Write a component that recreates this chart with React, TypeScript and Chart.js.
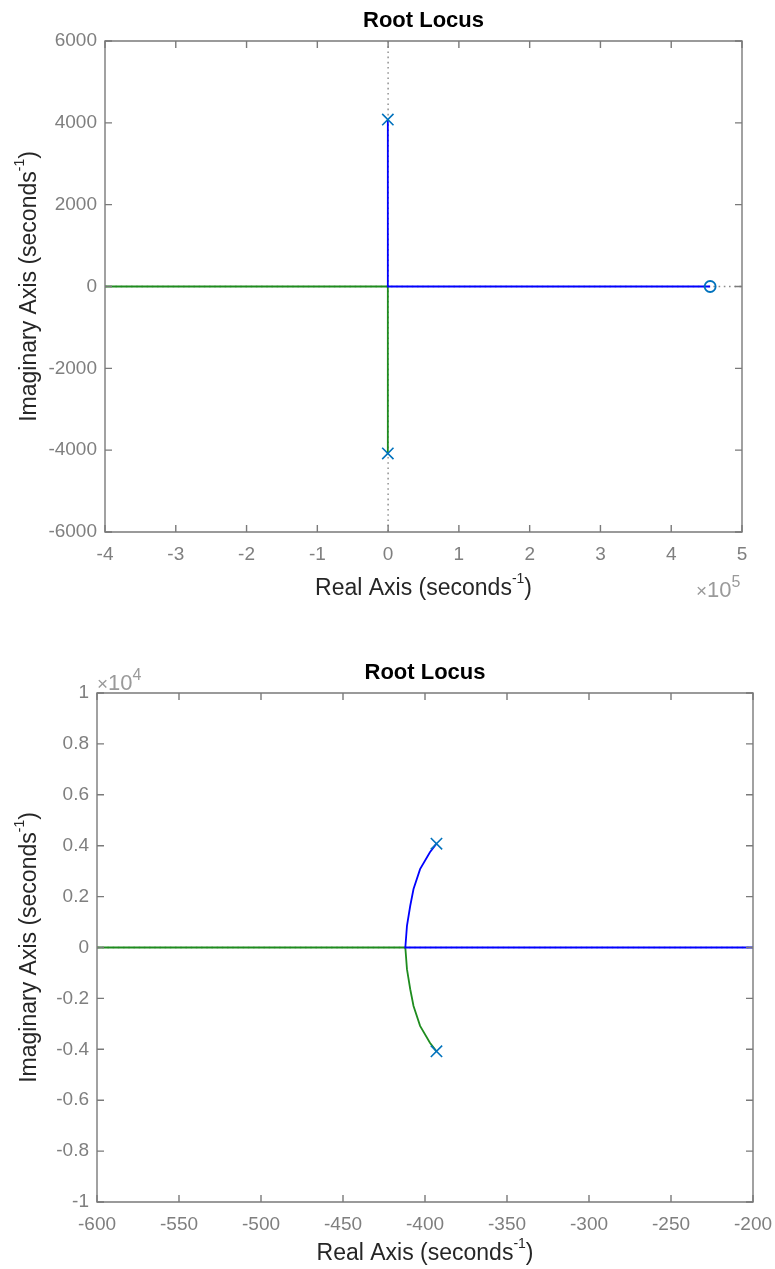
import React, { useEffect, useRef } from 'react';
import { Chart, registerables } from 'chart.js';

Chart.register(...registerables);

const FONT = '"Liberation Sans", Arial, Helvetica, sans-serif';

// ---------- text ----------
const TITLE_TEXT = 'Root Locus';
const X_LABEL_PARTS = ['Real Axis (seconds', '-1', ')'];
const Y_LABEL_PARTS = ['Imaginary Axis (seconds', '-1', ')'];

// ---------- top chart axes (real axis in units of 10^5) ----------
const topXTickValues = [-400000, -300000, -200000, -100000, 0, 100000, 200000, 300000, 400000, 500000];
const topXTickLabels = ['-4', '-3', '-2', '-1', '0', '1', '2', '3', '4', '5'];
const topYTickValues = [-6000, -4000, -2000, 0, 2000, 4000, 6000];
const topYTickLabels = ['-6000', '-4000', '-2000', '0', '2000', '4000', '6000'];
const topExponent = '5';

// ---------- bottom chart axes (imag axis in units of 10^4) ----------
const bottomXTickValues = [-600, -550, -500, -450, -400, -350, -300, -250, -200];
const bottomXTickLabels = ['-600', '-550', '-500', '-450', '-400', '-350', '-300', '-250', '-200'];
const bottomYTickValues = [-10000, -8000, -6000, -4000, -2000, 0, 2000, 4000, 6000, 8000, 10000];
const bottomYTickLabels = ['-1', '-0.8', '-0.6', '-0.4', '-0.2', '0', '0.2', '0.4', '0.6', '0.8', '1'];
const bottomExponent = '4';

// ---------- root locus data ----------
// branch 1 (blue): upper pole -> break-in point -> along real axis to the zero
const branch1Real = [-393, -397, -403, -407, -409, -411, -412, 455000];
const branch1Imag = [4080, 3740, 3080, 2300, 1640, 850, 0, 0];
// branch 2 (green): lower pole -> break-in point -> along real axis to -infinity
const branch2Real = [-393, -397, -403, -407, -409, -411, -412, -1000000];
const branch2Imag = [-4080, -3740, -3080, -2300, -1640, -850, 0, 0];
// open-loop poles and zero
const poleReal = [-393, -393];
const poleImag = [4080, -4080];
const zeroReal = [455000];
const zeroImag = [0];

const toPts = (re: number[], im: number[]) => re.map((r, i) => ({ x: r, y: im[i] }));

type Part = { t: string; size: number; rise: number };

function drawParts(ctx: CanvasRenderingContext2D, parts: Part[], x: number, y: number, align: 'center' | 'left') {
  const widths = parts.map((p) => {
    ctx.font = `${p.size}px ${FONT}`;
    return ctx.measureText(p.t).width;
  });
  const total = widths.reduce((a, b) => a + b, 0);
  let cx = align === 'center' ? x - total / 2 : x;
  ctx.textAlign = 'left';
  ctx.textBaseline = 'alphabetic';
  parts.forEach((p, i) => {
    ctx.font = `${p.size}px ${FONT}`;
    ctx.fillText(p.t, cx, y - p.rise);
    cx += widths[i];
  });
}

const labelParts = (arr: string[]): Part[] => [
  { t: arr[0], size: 23, rise: 0 },
  { t: arr[1], size: 14, rise: 12 },
  { t: arr[2], size: 23, rise: 0 },
];

const rlPlugin = {
  id: 'rl',
  beforeDatasetsDraw(chart: any) {
    const { ctx, chartArea: a, scales } = chart;
    const x = scales.x;
    const y = scales.y;
    ctx.save();
    ctx.beginPath();
    ctx.rect(a.left, a.top, a.right - a.left, a.bottom - a.top);
    ctx.clip();
    ctx.strokeStyle = '#8a8a8a';
    ctx.lineWidth = 1.4;
    ctx.setLineDash([1.6, 3.6]);
    const x0 = x.getPixelForValue(0);
    if (x0 >= a.left && x0 <= a.right) {
      ctx.beginPath();
      ctx.moveTo(x0, a.top);
      ctx.lineTo(x0, a.bottom);
      ctx.stroke();
    }
    const y0 = y.getPixelForValue(0);
    if (y0 >= a.top && y0 <= a.bottom) {
      ctx.beginPath();
      ctx.moveTo(a.left, y0);
      ctx.lineTo(a.right, y0);
      ctx.stroke();
    }
    ctx.restore();
  },
  afterDatasetsDraw(chart: any) {
    const { ctx, chartArea: a, scales } = chart;
    const x = scales.x;
    const y = scales.y;
    const tl = 7;
    ctx.save();
    ctx.strokeStyle = '#7a7a7a';
    ctx.lineWidth = 1.4;
    ctx.beginPath();
    ctx.rect(a.left, a.top, a.right - a.left, a.bottom - a.top);
    ctx.stroke();
    ctx.beginPath();
    x.ticks.forEach((t: any) => {
      const px = x.getPixelForValue(t.value);
      ctx.moveTo(px, a.bottom);
      ctx.lineTo(px, a.bottom - tl);
      ctx.moveTo(px, a.top);
      ctx.lineTo(px, a.top + tl);
    });
    y.ticks.forEach((t: any) => {
      const py = y.getPixelForValue(t.value);
      ctx.moveTo(a.left, py);
      ctx.lineTo(a.left + tl, py);
      ctx.moveTo(a.right, py);
      ctx.lineTo(a.right - tl, py);
    });
    ctx.stroke();
    ctx.restore();
  },
  afterDraw(chart: any, _args: any, opts: any) {
    const { ctx, chartArea: a } = chart;
    ctx.save();
    // title centred over the plot box
    ctx.fillStyle = '#000';
    ctx.font = `bold 22px ${FONT}`;
    ctx.textAlign = 'center';
    ctx.textBaseline = 'alphabetic';
    ctx.fillText(TITLE_TEXT, (a.left + a.right) / 2, opts.titleBaseline);
    ctx.fillStyle = '#262626';
    // x label
    drawParts(ctx, labelParts(X_LABEL_PARTS), (a.left + a.right) / 2, opts.xLabelBaseline, 'center');
    // y label (rotated)
    ctx.translate(opts.yLabelBaseline, (a.top + a.bottom) / 2);
    ctx.rotate(-Math.PI / 2);
    drawParts(ctx, labelParts(Y_LABEL_PARTS), 0, 0, 'center');
    ctx.setTransform(1, 0, 0, 1, 0, 0);
    // exponent
    ctx.fillStyle = '#9a9a9a';
    drawParts(
      ctx,
      [
        { t: '\u00D7', size: 19, rise: 0 },
        { t: '10', size: 22, rise: 0 },
        { t: opts.exp, size: 16, rise: 10 },
      ],
      opts.expX,
      opts.expY,
      'left'
    );
    ctx.restore();
  },
};

type Cfg = {
  height: number;
  xMin: number;
  xMax: number;
  yMin: number;
  yMax: number;
  xTickValues: number[];
  xTickLabels: string[];
  yTickValues: number[];
  yTickLabels: string[];
  yScaleWidth: number;
  xScaleHeight: number;
  padRight: number;
  plotTop: number;
  titleBaseline: number;
  xLabelBaseline: number;
  yLabelBaseline: number;
  exp: string;
  expX: number;
  expY: number;
};

function buildConfig(c: Cfg): any {
  const tickFont = { family: FONT, size: 19 };
  return {
    type: 'scatter',
    data: {
      datasets: [
        {
          label: 'poles',
          data: toPts(poleReal, poleImag),
          showLine: false,
          pointStyle: 'crossRot',
          pointRadius: 8,
          borderColor: '#0072BD',
          borderWidth: 1.6,
        },
        {
          label: 'zero',
          data: toPts(zeroReal, zeroImag),
          showLine: false,
          pointStyle: 'circle',
          pointRadius: 5.5,
          backgroundColor: 'rgba(0,0,0,0)',
          borderColor: '#0072BD',
          borderWidth: 1.8,
        },
        {
          label: 'branch 1',
          data: toPts(branch1Real, branch1Imag),
          showLine: true,
          pointRadius: 0,
          borderColor: '#0000FF',
          borderWidth: 1.8,
          tension: 0,
        },
        {
          label: 'branch 2',
          data: toPts(branch2Real, branch2Imag),
          showLine: true,
          pointRadius: 0,
          borderColor: '#1E8C1E',
          borderWidth: 1.8,
          tension: 0,
        },
      ],
    },
    options: {
      animation: false,
      responsive: false,
      events: [],
      layout: { padding: { left: 0, right: c.padRight, top: c.plotTop, bottom: 0 } },
      plugins: {
        legend: { display: false },
        tooltip: { enabled: false },
        title: { display: false },
        rl: {
          titleBaseline: c.titleBaseline,
          xLabelBaseline: c.xLabelBaseline,
          yLabelBaseline: c.yLabelBaseline,
          exp: c.exp,
          expX: c.expX,
          expY: c.expY,
        },
      },
      scales: {
        x: {
          type: 'linear',
          min: c.xMin,
          max: c.xMax,
          border: { display: false },
          grid: { display: false, drawTicks: false },
          afterBuildTicks: (s: any) => {
            s.ticks = c.xTickValues.map((v) => ({ value: v }));
          },
          afterFit: (s: any) => {
            s.height = c.xScaleHeight;
            s.paddingLeft = 0;
            s.paddingRight = 0;
          },
          ticks: {
            autoSkip: false,
            maxRotation: 0,
            padding: 11,
            color: '#7f7f7f',
            font: tickFont,
            callback: (_v: any, i: number) => c.xTickLabels[i],
          },
        },
        y: {
          type: 'linear',
          min: c.yMin,
          max: c.yMax,
          border: { display: false },
          grid: { display: false, drawTicks: false },
          afterBuildTicks: (s: any) => {
            s.ticks = c.yTickValues.map((v) => ({ value: v }));
          },
          afterFit: (s: any) => {
            s.width = c.yScaleWidth;
            s.paddingTop = 0;
            s.paddingBottom = 0;
          },
          ticks: {
            autoSkip: false,
            padding: 8,
            color: '#7f7f7f',
            font: tickFont,
            callback: (_v: any, i: number) => c.yTickLabels[i],
          },
        },
      },
    },
    plugins: [rlPlugin],
  };
}

function RootLocusChart({ cfg, top }: { cfg: Cfg; top: number }) {
  const ref = useRef<HTMLCanvasElement>(null);
  useEffect(() => {
    const chart = new Chart(ref.current as HTMLCanvasElement, buildConfig(cfg));
    return () => chart.destroy();
  }, []);
  return (
    <canvas
      ref={ref}
      width={775}
      height={cfg.height}
      style={{ position: 'absolute', left: 0, top, width: 775, height: cfg.height, display: 'block' }}
    />
  );
}

const topCfg: Cfg = {
  height: 625,
  xMin: -400000,
  xMax: 500000,
  yMin: -6000,
  yMax: 6000,
  xTickValues: topXTickValues,
  xTickLabels: topXTickLabels,
  yTickValues: topYTickValues,
  yTickLabels: topYTickLabels,
  yScaleWidth: 105,
  xScaleHeight: 93,
  padRight: 33,
  plotTop: 41,
  titleBaseline: 27,
  xLabelBaseline: 595,
  yLabelBaseline: 36,
  exp: topExponent,
  expX: 696,
  expY: 597,
};

const bottomCfg: Cfg = {
  height: 644,
  xMin: -600,
  xMax: -200,
  yMin: -10000,
  yMax: 10000,
  xTickValues: bottomXTickValues,
  xTickLabels: bottomXTickLabels,
  yTickValues: bottomYTickValues,
  yTickLabels: bottomYTickLabels,
  yScaleWidth: 97,
  xScaleHeight: 67,
  padRight: 22,
  plotTop: 68,
  titleBaseline: 54,
  xLabelBaseline: 635,
  yLabelBaseline: 36,
  exp: bottomExponent,
  expX: 97,
  expY: 65,
};

export default function App() {
  return (
    <div style={{ position: 'absolute', left: 0, top: 0, width: 775, height: 1269, background: '#fff' }}>
      <RootLocusChart cfg={topCfg} top={0} />
      <RootLocusChart cfg={bottomCfg} top={625} />
    </div>
  );
}
